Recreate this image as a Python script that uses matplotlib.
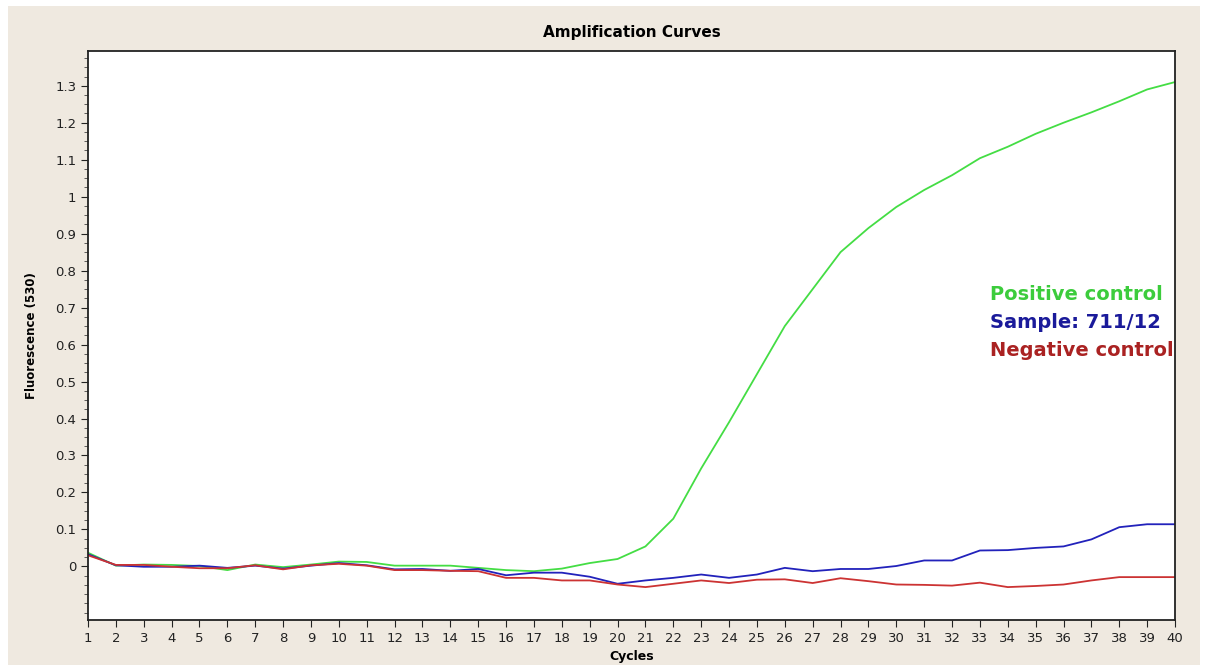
import numpy as np
import matplotlib.pyplot as plt
from matplotlib.ticker import MultipleLocator, FuncFormatter
from matplotlib.patches import Rectangle

cycles = list(range(1, 41))

positive_control = [0.037, 0.002, 0.005, 0.004, 0.001, -0.010, 0.005, -0.002, 0.005, 0.013,
                    0.012, 0.002, 0.002, 0.002, -0.004, -0.010, -0.013, -0.006, 0.009, 0.020,
                    0.054, 0.129, 0.265, 0.390, 0.520, 0.650, 0.750, 0.850, 0.915, 0.972,
                    1.018, 1.058, 1.104, 1.135, 1.170, 1.200, 1.228, 1.258, 1.290, 1.310]

sample_711 = [0.033, 0.003, -0.001, -0.001, 0.002, -0.004, 0.002, -0.006, 0.002, 0.009,
              0.003, -0.008, -0.007, -0.012, -0.007, -0.024, -0.017, -0.017, -0.028, -0.047,
              -0.038, -0.031, -0.022, -0.031, -0.022, -0.004, -0.013, -0.007, -0.007, 0.001,
              0.016, 0.016, 0.043, 0.044, 0.050, 0.054, 0.073, 0.106, 0.114, 0.114]

negative_control = [0.030, 0.004, 0.004, -0.001, -0.005, -0.005, 0.003, -0.008, 0.003, 0.007,
                    0.002, -0.010, -0.010, -0.012, -0.013, -0.031, -0.031, -0.038, -0.038, -0.049,
                    -0.056, -0.047, -0.038, -0.045, -0.036, -0.035, -0.045, -0.032, -0.040, -0.049,
                    -0.050, -0.052, -0.044, -0.056, -0.053, -0.049, -0.038, -0.029, -0.029, -0.029]

labels = ['Positive control', 'Sample: 711/12', 'Negative control']
line_colors = ['#44dd44', '#2222bb', '#cc3333']
text_colors = ['#3ccc3c', '#1a1a9a', '#aa2222']

fig = plt.figure(figsize=(12.08, 6.71), dpi=100, facecolor='white')
fig.patches.append(Rectangle((8 / 1208, 6 / 671), 1192 / 1208, 659 / 671,
                             transform=fig.transFigure, facecolor='#efe9e0',
                             edgecolor='none', zorder=-1))

ax = fig.add_axes([88 / 1208, 51 / 671, 1087 / 1208, 569 / 671])
ax.set_facecolor('white')

for series, c in zip([positive_control, sample_711, negative_control], line_colors):
    ax.plot(cycles, series, color=c, lw=1.3)

ax.set_xlim(1, 40)
ax.set_ylim(-0.145, 1.394)
ax.set_xticks(cycles)
ax.set_yticks(np.arange(0, 1.31, 0.1))
ax.yaxis.set_major_formatter(FuncFormatter(lambda v, p: f'{round(v, 2):g}'))
ax.yaxis.set_minor_locator(MultipleLocator(0.025))
ax.tick_params(axis='both', which='major', labelsize=9.5, length=5, width=0.8,
               direction='out', colors='#222222')
ax.tick_params(axis='y', which='minor', length=3, width=0.6, colors='#444444')
for s in ax.spines.values():
    s.set_color('#222222')
    s.set_linewidth(1.3)

ax.set_title('Amplification Curves', fontsize=11, fontweight='bold', pad=10)
ax.set_xlabel('Cycles', fontsize=9, fontweight='bold', labelpad=4)
ax.set_ylabel('Fluorescence (530)', fontsize=8.5, fontweight='bold')
ax.yaxis.set_label_coords(-0.052, 0.5)
ax.yaxis.label.set_va('center')

for i, (lab, c) in enumerate(zip(labels, text_colors)):
    ax.text(33.35, 0.736 - i * 0.076, lab, color=c, fontsize=14, fontweight='bold',
            va='center', ha='left')

fig.savefig('out.png', dpi=100, facecolor=fig.get_facecolor())
